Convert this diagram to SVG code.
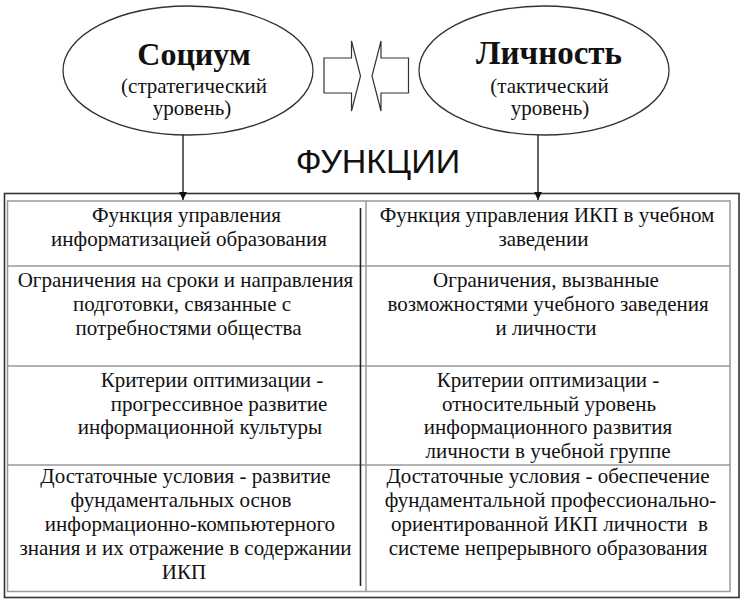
<svg xmlns="http://www.w3.org/2000/svg" width="743" height="600" viewBox="0 0 743 600">
<style>
.t{font-family:"Liberation Serif","Times New Roman",serif;font-size:21px;fill:#111;text-anchor:middle}
.h{font-family:"Liberation Serif","Times New Roman",serif;font-weight:bold;fill:#111;text-anchor:middle}
.e{fill:#fff;stroke:#333;stroke-width:1.3}
.g{stroke:#999;stroke-width:1.5;fill:none}
.c{stroke:#111;stroke-width:1.3;fill:none}
.ba{fill:#fff;stroke:#333;stroke-width:1.2}
</style>
<defs>
<marker id="ah" viewBox="0 0 10 10" refX="10" refY="5" markerWidth="8" markerHeight="8" markerUnits="userSpaceOnUse" orient="auto">
<path d="M0,0 L10,5 L0,10 z" fill="#111"/>
</marker>
</defs>
<rect width="743" height="600" fill="#fff"/>

<g id="socium">
<ellipse class="e" cx="188" cy="70.5" rx="125" ry="64.5"/>
<text class="h" x="194" y="65" font-size="32">Социум</text>
<text class="t" x="194" y="93">(стратегический</text>
<text class="t" x="192" y="115">уровень)</text>
</g>

<g id="lichnost">
<ellipse class="e" cx="544" cy="70.5" rx="125" ry="64.5"/>
<text class="h" x="549" y="64" font-size="33">Личность</text>
<text class="t" x="549.5" y="93">(тактический</text>
<text class="t" x="550" y="115">уровень)</text>
</g>

<g id="block-arrows">
<polygon class="ba" points="324,58 351.5,58 351.5,41 360.5,76 351.5,111 351.5,93 324,93"/>
<polygon class="ba" points="408.5,58 381,58 381,41 372,76 381,111 381,93 408.5,93"/>
</g>

<text id="functions-title" x="378" y="173" font-family="'Liberation Sans',Arial,sans-serif" font-size="34" fill="#111" text-anchor="middle">ФУНКЦИИ</text>

<g id="table">
<rect x="4.5" y="193.5" width="734.5" height="404" fill="none" stroke="#333" stroke-width="1.6"/>
<rect class="g" x="7.5" y="201" width="722.5" height="390.5"/>
<line class="g" x1="7.5" y1="266" x2="730" y2="266"/>
<line class="g" x1="7.5" y1="366" x2="730" y2="366"/>
<line class="g" x1="7.5" y1="465" x2="730" y2="465"/>
<line class="g" x1="366" y1="201" x2="366" y2="591.5"/>
<line x1="360.5" y1="208" x2="360.5" y2="586" stroke="#222" stroke-width="1.6"/>
</g>

<g id="cell-l1">
<text class="t" x="186.5" y="222">Функция управления</text>
<text class="t" x="189" y="246">информатизацией образования</text>
</g>
<g id="cell-r1">
<text class="t" x="547" y="222">Функция управления ИКП в учебном</text>
<text class="t" x="543.5" y="246">заведении</text>
</g>
<g id="cell-l2">
<text class="t" x="185.5" y="287">Ограничения на сроки и направления</text>
<text class="t" x="182" y="311">подготовки, связанные с</text>
<text class="t" x="188.5" y="335">потребностями общества</text>
</g>
<g id="cell-r2">
<text class="t" x="546" y="287">Ограничения, вызванные</text>
<text class="t" x="548" y="311">возможностями учебного заведения</text>
<text class="t" x="546" y="335">и личности</text>
</g>
<g id="cell-l3">
<text class="t" x="212" y="387">Критерии оптимизации -</text>
<text class="t" x="219" y="411">прогрессивное развитие</text>
<text class="t" x="200" y="434">информационной культуры</text>
</g>
<g id="cell-r3">
<text class="t" x="548" y="387">Критерии оптимизации -</text>
<text class="t" x="549" y="411">относительный уровень</text>
<text class="t" x="548" y="434">информационного развития</text>
<text class="t" x="548" y="458">личности в учебной группе</text>
</g>
<g id="cell-l4">
<text class="t" x="185.5" y="483">Достаточные условия - развитие</text>
<text class="t" x="181" y="507">фундаментальных основ</text>
<text class="t" x="190" y="531">информационно-компьютерного</text>
<text class="t" x="185.5" y="555">знания и их отражение в содержании</text>
<text class="t" x="184" y="579">ИКП</text>
</g>
<g id="cell-r4">
<text class="t" x="548" y="483">Достаточные условия - обеспечение</text>
<text class="t" x="550.5" y="507">фундаментальной профессионально-</text>
<text class="t" x="549.5" y="531" style="white-space:pre">ориентированной ИКП личности  в</text>
<text class="t" x="548" y="555">системе непрерывного образования</text>
</g>

<g id="connectors">
<line class="c" x1="183" y1="135" x2="183" y2="200" marker-end="url(#ah)"/>
<line class="c" x1="538" y1="135" x2="538" y2="200" marker-end="url(#ah)"/>
</g>
</svg>
